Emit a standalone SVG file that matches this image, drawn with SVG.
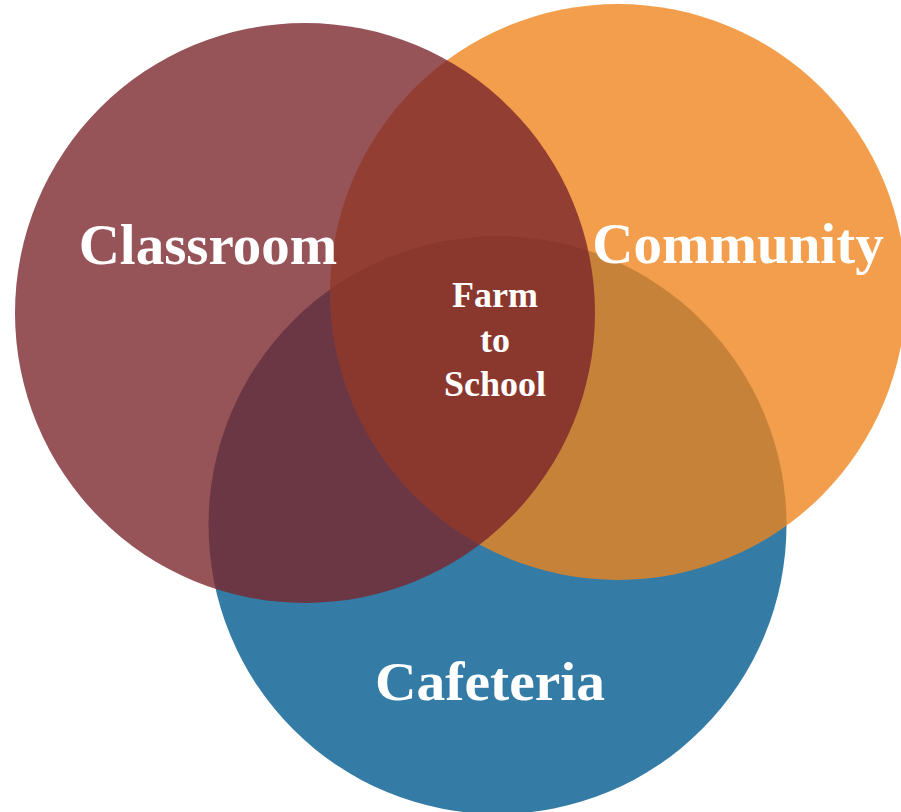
<svg xmlns="http://www.w3.org/2000/svg" width="901" height="812" viewBox="0 0 901 812">
<style>
.c{opacity:0.79}
.lbl{font-family:"Liberation Serif","DejaVu Serif",serif;font-weight:bold;fill:#ffffff;text-anchor:middle}
.big{font-size:57px}
.small{font-size:36px}
</style>
<rect width="901" height="812" fill="#ffffff"/>
<g id="cafeteria">
<circle cx="497.5" cy="525" r="289" fill="#347ca6"/>
</g>
<g id="community">
<circle class="c" cx="618" cy="292" r="288" fill="#ef841c"/>
</g>
<g id="classroom">
<circle class="c" cx="305" cy="313" r="290" fill="#7a252b"/>
</g>
<g id="connectors"></g>
<g id="labels">
<text class="lbl big" x="208" y="264">Classroom</text>
<text class="lbl big" x="738" y="263">Community</text>
<text class="lbl big" x="490" y="700" style="font-size:54px" textLength="230" lengthAdjust="spacingAndGlyphs">Cafeteria</text>
<text class="lbl small" x="495" y="307">Farm</text>
<text class="lbl small" x="495" y="352">to</text>
<text class="lbl small" x="495" y="396">School</text>
</g>
</svg>
